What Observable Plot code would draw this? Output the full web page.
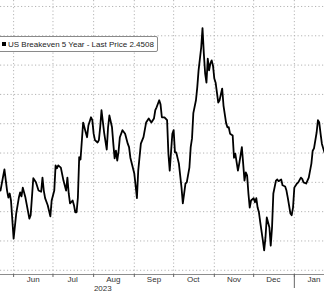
<!DOCTYPE html>
<html>
<head>
<meta charset="utf-8">
<script src="https://cdn.jsdelivr.net/npm/d3@7"></script>
<script src="https://cdn.jsdelivr.net/npm/@observablehq/plot@0.6"></script>
<style>
  html, body { margin: 0; padding: 0; background: #fff; }
  #wrap { position: relative; width: 324px; height: 292px; overflow: hidden; }
  #legend {
    position: absolute; left: -3px; top: 36px; height: 14px;
    border: 1px solid #8a8a8a; border-radius: 2px; background: #fff;
    font-family: "Liberation Sans", Arial, sans-serif; font-size: 8px; color: #222;
    display: flex; align-items: center; padding: 0 3px 0 4px; white-space: nowrap;
  }
  #legend .sw { display: inline-block; width: 4px; height: 4px; background: #000; margin-right: 2px; }
</style>
</head>
<body>
<div id="wrap"></div>
<script>
const seriesName = "US Breakeven 5 Year";
const lastPrice = "2.4508";

const dates = [
  "2023-05-22","2023-05-25","2023-05-27","2023-05-28","2023-05-29","2023-05-30",
  "2023-06-01","2023-06-03","2023-06-05","2023-06-06","2023-06-07","2023-06-08","2023-06-10",
  "2023-06-13","2023-06-14","2023-06-16","2023-06-18","2023-06-20","2023-06-22","2023-06-23",
  "2023-06-24","2023-06-25","2023-06-27","2023-06-29","2023-06-30",
  "2023-07-02","2023-07-03","2023-07-04","2023-07-05","2023-07-07","2023-07-09","2023-07-11",
  "2023-07-12","2023-07-13","2023-07-14","2023-07-16","2023-07-17","2023-07-18","2023-07-19",
  "2023-07-20","2023-07-21","2023-07-22","2023-07-24","2023-07-26","2023-07-27","2023-07-28",
  "2023-07-30","2023-07-31",
  "2023-08-01","2023-08-02","2023-08-04","2023-08-05","2023-08-06","2023-08-07","2023-08-09",
  "2023-08-11","2023-08-12","2023-08-13","2023-08-15","2023-08-16","2023-08-17","2023-08-18",
  "2023-08-19","2023-08-20","2023-08-21","2023-08-23","2023-08-25","2023-08-27","2023-08-28",
  "2023-08-29",
  "2023-09-01","2023-09-02","2023-09-03","2023-09-04","2023-09-06","2023-09-08","2023-09-10",
  "2023-09-12","2023-09-14","2023-09-16","2023-09-17","2023-09-18","2023-09-20","2023-09-21",
  "2023-09-22","2023-09-24","2023-09-26","2023-09-27","2023-09-28","2023-09-30",
  "2023-10-01","2023-10-02","2023-10-03","2023-10-05","2023-10-07","2023-10-08","2023-10-10",
  "2023-10-11","2023-10-13","2023-10-14","2023-10-15","2023-10-16","2023-10-18","2023-10-19",
  "2023-10-20","2023-10-22","2023-10-23","2023-10-24","2023-10-25","2023-10-26","2023-10-27",
  "2023-10-28","2023-10-29","2023-10-30","2023-10-31",
  "2023-11-01","2023-11-02","2023-11-04","2023-11-05","2023-11-07","2023-11-08","2023-11-10",
  "2023-11-11","2023-11-12","2023-11-13","2023-11-15","2023-11-16","2023-11-17","2023-11-19",
  "2023-11-20","2023-11-22","2023-11-23","2023-11-24","2023-11-25","2023-11-26","2023-11-27",
  "2023-11-28","2023-11-29",
  "2023-12-01","2023-12-02","2023-12-03","2023-12-04","2023-12-05","2023-12-06","2023-12-08",
  "2023-12-09","2023-12-10","2023-12-11","2023-12-13","2023-12-14","2023-12-15","2023-12-16",
  "2023-12-18","2023-12-19","2023-12-20","2023-12-22","2023-12-23","2023-12-25","2023-12-26",
  "2023-12-27","2023-12-29","2023-12-30","2023-12-31",
  "2024-01-01","2024-01-03","2024-01-04","2024-01-06","2024-01-07","2024-01-08","2024-01-10",
  "2024-01-12","2024-01-14","2024-01-15","2024-01-16","2024-01-18","2024-01-19","2024-01-20",
  "2024-01-21","2024-01-22","2024-01-23","2024-01-24"
];
const values = [
  2.386,2.422,2.386,2.374,2.381,2.369,
  2.304,2.347,2.374,2.383,2.376,2.391,2.374,
  2.338,2.344,2.407,2.400,2.386,2.384,2.408,
  2.386,2.373,2.361,2.342,2.369,
  2.386,2.429,2.424,2.429,2.425,2.403,2.386,
  2.408,2.381,2.364,2.369,2.361,2.349,2.349,
  2.374,2.443,2.439,2.502,2.485,2.477,2.497,
  2.511,2.506,
  2.483,2.472,2.468,2.472,2.494,2.523,2.485,
  2.456,2.494,2.514,2.494,2.466,2.441,2.454,
  2.437,2.453,2.477,2.489,2.483,2.466,2.460,
  2.442,
  2.415,2.395,2.373,2.420,2.466,2.477,2.502,
  2.509,2.502,2.509,2.523,2.528,2.540,2.533,
  2.511,2.511,2.506,2.449,2.420,2.483,
  2.489,2.451,2.451,2.432,2.391,2.364,2.398,
  2.400,2.425,2.460,2.475,2.518,2.540,2.562,
  2.591,2.630,2.663,2.620,2.586,2.570,2.611,
  2.591,2.603,2.608,2.599,
  2.577,2.570,2.536,2.540,2.560,2.531,2.501,
  2.494,2.494,2.483,2.480,2.442,2.449,2.420,
  2.432,2.460,2.432,2.403,2.417,2.412,2.381,
  2.357,2.369,
  2.373,2.366,2.373,2.357,2.349,2.332,2.301,
  2.284,2.306,2.340,2.323,2.292,2.323,2.381,
  2.403,2.405,2.402,2.405,2.395,2.393,2.386,
  2.374,2.347,2.344,2.357,
  2.391,2.398,2.400,2.408,2.406,2.400,2.398,
  2.408,2.432,2.454,2.458,2.485,2.506,2.502,
  2.483,2.466,2.458,2.4508
];

const xDomain = ["2023-05-22", "2024-01-24"];
const yDomain = [2.2428, 2.7102];
const yGrid = [2.25, 2.30, 2.35, 2.40, 2.45, 2.50, 2.55, 2.60, 2.65, 2.70];
const monthStarts = ["2023-06-01","2023-07-01","2023-08-01","2023-09-01","2023-10-01","2023-11-01","2023-12-01","2024-01-01"];
const monthLabelDates = ["2023-06-16","2023-07-16","2023-08-16","2023-09-16","2023-10-16","2023-11-16","2023-12-16","2024-01-16"];
const monthLabels = ["Jun","Jul","Aug","Sep","Oct","Nov","Dec","Jan"];
const yearBreaks = ["2024-01-01"];
const yearLabelDates = ["2023-08-08"];
const yearLabels = ["2023"];

const P = s => new Date(s + "T00:00:00Z");
const data = dates.map((d, i) => ({date: P(d), value: values[i]}));

const grid = {stroke: "#b4b4b4", strokeOpacity: 1, strokeDasharray: "1.2,2.3", strokeWidth: 1};

const chart = Plot.plot({
  width: 324,
  height: 292,
  marginTop: 0,
  marginRight: 0,
  marginBottom: 18,
  marginLeft: 0,
  style: {fontFamily: "'Liberation Sans', Arial, sans-serif", fontSize: "8px", background: "#fff", color: "#333"},
  x: {type: "utc", domain: xDomain.map(P), axis: null},
  y: {domain: yDomain, axis: null},
  marks: [
    Plot.gridY(yGrid, grid),
    Plot.gridX(monthStarts.map(P), grid),
    Plot.ruleY([yDomain[0]], {stroke: "#8c8c8c", strokeWidth: 1}),
    Plot.axisX(monthStarts.map(P), {tickSize: 3, text: null, stroke: "#666"}),
    Plot.axisX(yearBreaks.map(P), {tickSize: 14, text: null, stroke: "#666"}),
    Plot.axisX(monthLabelDates.map(P), {tickSize: 0, tickPadding: 2, tickFormat: (d, i) => monthLabels[i], fill: "#333"}),
    Plot.axisX(yearLabelDates.map(P), {tickSize: 0, tickPadding: 10.5, tickFormat: (d, i) => yearLabels[i], fill: "#333"}),
    Plot.lineY(data, {x: "date", y: "value", stroke: "#000", strokeWidth: 1.8, strokeLinejoin: "round"})
  ]
});

const wrap = document.getElementById("wrap");
wrap.appendChild(chart);
const leg = document.createElement("div");
leg.id = "legend";
leg.innerHTML = '<span class="sw"></span>' + seriesName + " - Last Price " + lastPrice;
wrap.appendChild(leg);
</script>
</body>
</html>
